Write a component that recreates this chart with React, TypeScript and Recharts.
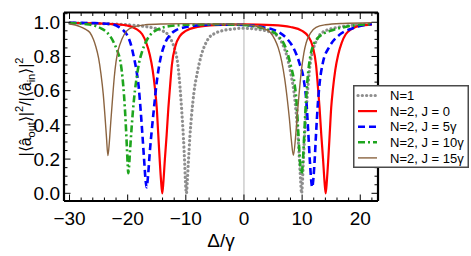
import { LineChart, Line, XAxis, YAxis, ReferenceLine, Legend } from "recharts";

type Pt = [number, number];

// |<a_out>|^2/|<a_in>|^2 against Δ/γ
const n1: Pt[] = [
  [-30, 0.995], [-25, 0.992], [-20, 0.985], [-17, 0.975], [-15, 0.962], [-14, 0.95], [-13, 0.925],
  [-12.3, 0.88], [-11.8, 0.83], [-11.4, 0.76], [-11.0, 0.62], [-10.7, 0.48], [-10.4, 0.32], [-10.2, 0.18],
  [-10.05, 0.06], [-9.9, 0.0], [-9.75, 0.07], [-9.55, 0.19], [-9.3, 0.33], [-9.0, 0.46], [-8.6, 0.59],
  [-8.0, 0.71], [-7.4, 0.8], [-6.8, 0.86], [-6.0, 0.91], [-5.0, 0.935], [-4.0, 0.948], [-2.0, 0.96],
  [0, 0.965], [2.0, 0.96], [4.0, 0.948], [5.0, 0.935], [6.0, 0.91], [6.8, 0.86], [7.4, 0.8], [8.0, 0.71],
  [8.6, 0.59], [9.0, 0.46], [9.3, 0.33], [9.55, 0.19], [9.75, 0.07], [9.9, 0.0], [10.05, 0.06], [10.2, 0.18],
  [10.4, 0.32], [10.7, 0.48], [11.0, 0.62], [11.4, 0.76], [11.8, 0.83], [12.3, 0.88], [13, 0.925],
  [14, 0.95], [15, 0.962], [17, 0.975], [20, 0.985], [22, 0.989],
];

const j0: Pt[] = [
  [-30, 0.997], [-25, 0.993], [-22, 0.988], [-20, 0.98], [-18.5, 0.96], [-17.5, 0.93], [-16.8, 0.88],
  [-16.2, 0.81], [-15.7, 0.72], [-15.3, 0.61], [-15.0, 0.5], [-14.75, 0.35], [-14.5, 0.2], [-14.25, 0.07],
  [-14.05, 0.0], [-13.85, 0.07], [-13.6, 0.2], [-13.3, 0.34], [-13.0, 0.5], [-12.7, 0.63], [-12.4, 0.75],
  [-11.8, 0.86], [-11.0, 0.92], [-10.0, 0.95], [-8.0, 0.972], [-5, 0.983], [0, 0.987], [5, 0.983],
  [8, 0.972], [10, 0.95], [11, 0.92], [11.8, 0.86], [12.4, 0.75], [12.7, 0.63], [13.0, 0.5], [13.3, 0.34],
  [13.6, 0.2], [13.85, 0.07], [14.05, 0.0], [14.25, 0.07], [14.5, 0.2], [14.75, 0.35], [15.0, 0.5],
  [15.3, 0.61], [15.7, 0.72], [16.2, 0.81], [16.8, 0.88], [17.5, 0.93], [18.5, 0.96], [20, 0.98], [22, 0.986],
];

const j5: Pt[] = [
  [-30, 0.997], [-26, 0.995], [-23, 0.99], [-21.5, 0.972], [-20.75, 0.952], [-20, 0.92], [-19.4, 0.865],
  [-18.9, 0.79], [-18.5, 0.72], [-18.1, 0.62], [-17.8, 0.5], [-17.5, 0.36], [-17.2, 0.21], [-16.95, 0.09],
  [-16.75, 0.035], [-16.5, 0.1], [-16.2, 0.24], [-15.85, 0.37], [-15.5, 0.49], [-15.0, 0.65], [-14.4, 0.78],
  [-13.6, 0.875], [-12.6, 0.93], [-11.6, 0.955], [-10, 0.972], [-8, 0.982], [-5, 0.986], [-2, 0.986],
  [0, 0.984], [2, 0.978], [4, 0.966], [5, 0.957], [6.1, 0.94], [7.5, 0.9], [8.4, 0.857], [9.55, 0.76],
  [10.3, 0.66], [10.75, 0.53], [11.05, 0.36], [11.35, 0.18], [11.55, 0.08], [11.73, 0.035], [11.95, 0.09],
  [12.15, 0.19], [12.4, 0.35], [12.7, 0.52], [13.0, 0.64], [13.55, 0.76], [14.7, 0.857], [16.4, 0.926],
  [18.7, 0.965], [22, 0.99],
];

const j10: Pt[] = [
  [-30, 0.996], [-27.5, 0.99], [-25.5, 0.978], [-24.5, 0.963], [-23.7, 0.945], [-23, 0.918], [-22.3, 0.875],
  [-21.7, 0.825], [-21.3, 0.78], [-20.9, 0.68], [-20.6, 0.56], [-20.35, 0.42], [-20.15, 0.28], [-20.0, 0.17],
  [-19.9, 0.117], [-19.8, 0.14], [-19.65, 0.22], [-19.35, 0.37], [-19.05, 0.5], [-18.75, 0.6], [-18.4, 0.69],
  [-18.0, 0.77], [-17.6, 0.82], [-16.75, 0.893], [-16, 0.93], [-15, 0.955], [-12.7, 0.978], [-10, 0.985],
  [-5, 0.988], [0, 0.984], [2, 0.975], [4, 0.958], [5, 0.943], [6.1, 0.912], [7.3, 0.84], [8.1, 0.74],
  [8.7, 0.64], [9.05, 0.53], [9.3, 0.38], [9.55, 0.23], [9.75, 0.14], [9.9, 0.115], [10.0, 0.13],
  [10.15, 0.2], [10.35, 0.33], [10.55, 0.47], [10.8, 0.61], [11.05, 0.71], [11.35, 0.79], [11.8, 0.855],
  [12.4, 0.895], [13.5, 0.93], [14.7, 0.948], [17.6, 0.974], [20, 0.985], [22, 0.99],
];

const j15: Pt[] = [
  [-30, 0.99], [-29, 0.984], [-28.2, 0.975], [-27.3, 0.96], [-26.5, 0.94], [-25.9, 0.9], [-25.5, 0.86],
  [-25.0, 0.79], [-24.6, 0.7], [-24.2, 0.58], [-23.9, 0.45], [-23.65, 0.33], [-23.4, 0.22], [-23.15, 0.3],
  [-22.9, 0.42], [-22.6, 0.555], [-22.3, 0.68], [-22.0, 0.77], [-21.6, 0.84], [-21.0, 0.9], [-20.2, 0.948],
  [-19.0, 0.972], [-17, 0.985], [-14, 0.99], [-10, 0.992], [-5, 0.99], [0, 0.986], [2, 0.978], [3.5, 0.962],
  [4.5, 0.942], [5.3, 0.9], [5.9, 0.85], [6.5, 0.77], [7.0, 0.67], [7.45, 0.55], [7.8, 0.44], [8.15, 0.31],
  [8.5, 0.222], [8.85, 0.32], [9.15, 0.45], [9.45, 0.57], [9.85, 0.71], [10.3, 0.82], [10.7, 0.88],
  [11.5, 0.94], [12.4, 0.97], [14, 0.985], [17, 0.993], [22, 0.997],
];

const legendNames = ["N=1", "N=2, J = 0", "N=2, J = 5γ", "N=2, J = 10γ", "N=2, J = 15γ"];

const xTickLabels = [-30, -20, -10, 0, 10, 20];
const yTickLabels = [0, 0.2, 0.4, 0.6, 0.8, 1.0];
const xDomain: [number, number] = [-30.95, 23.05];
const yDomain: [number, number] = [-0.045, 1.057];

const xTicks: number[] = [];
for (let v = -30; v <= 22; v += 2) xTicks.push(v);
const yTicks: number[] = [];
for (let i = 0; i <= 21; i++) yTicks.push(Math.round(i * 5) / 100);

const font = "'Liberation Sans', Arial, sans-serif";

const series = [
  { name: legendNames[0], pts: n1, color: "#8e8e8e", width: 3.2, dash: "0.1 4.2", cap: "round" as const },
  { name: legendNames[1], pts: j0, color: "#ff0000", width: 2.2, dash: undefined, cap: "butt" as const },
  { name: legendNames[2], pts: j5, color: "#0000ff", width: 2.6, dash: "7 4", cap: "butt" as const },
  { name: legendNames[3], pts: j10, color: "#1ea51e", width: 2.6, dash: "7 3 2 3", cap: "butt" as const },
  { name: legendNames[4], pts: j15, color: "#8b6440", width: 1.4, dash: undefined, cap: "butt" as const },
];

const isMajorY = (v: number) => yTickLabels.some((t) => Math.abs(t - v) < 1e-6);
const fmtX = (v: number) => (v < 0 ? "\u2212" + Math.abs(v) : String(v));

function BottomTick({ x, y, payload }: any) {
  const major = xTickLabels.includes(payload.value);
  return (
    <g>
      <line x1={x} x2={x} y1={y} y2={y - (major ? 6.5 : 3.5)} stroke="#000" strokeWidth={1} />
      {major && (
        <text x={x} y={y + 23.5} textAnchor="middle" fontFamily={font} fontSize={19} fill="#000">
          {fmtX(payload.value)}
        </text>
      )}
    </g>
  );
}

function TopTick({ x, y, payload }: any) {
  const major = xTickLabels.includes(payload.value);
  return <line x1={x} x2={x} y1={y} y2={y + (major ? 6.5 : 3.5)} stroke="#000" strokeWidth={1} />;
}

function LeftTick({ x, y, payload }: any) {
  const major = isMajorY(payload.value);
  return (
    <g>
      <line x1={x} x2={x + (major ? 6.5 : 3.5)} y1={y} y2={y} stroke="#000" strokeWidth={1} />
      {major && (
        <text x={x - 4} y={y + 6.8} textAnchor="end" fontFamily={font} fontSize={19} fill="#000">
          {payload.value.toFixed(1)}
        </text>
      )}
    </g>
  );
}

function RightTick({ x, y, payload }: any) {
  const major = isMajorY(payload.value);
  return <line x1={x} x2={x - (major ? 6.5 : 3.5)} y1={y} y2={y} stroke="#000" strokeWidth={1} />;
}

function YTitle() {
  return (
    <text transform="translate(31,107) rotate(-90)" textAnchor="middle" fontFamily={font} fontSize={16} fill="#000">
      <tspan>|⟨â</tspan>
      <tspan dy={3.5} fontSize={11}>out</tspan>
      <tspan dy={-3.5}>⟩|</tspan>
      <tspan dy={-8} fontSize={11}>2</tspan>
      <tspan dy={8}>/|⟨â</tspan>
      <tspan dy={3.5} fontSize={11}>in</tspan>
      <tspan dy={-3.5}>⟩|</tspan>
      <tspan dy={-8} fontSize={11}>2</tspan>
    </text>
  );
}

function XTitle() {
  return (
    <text x={221} y={247} textAnchor="middle" fontFamily={font} fontSize={19} fill="#000">
      Δ/γ
    </text>
  );
}

function LegendBox() {
  return (
    <svg width={116} height={83} style={{ display: "block" }}>
      <rect x={0.75} y={0.75} width={114.5} height={81.5} fill="#fff" stroke="#4a4a4a" strokeWidth={1.5} />
      {series.map((s, i) => {
        const cy = 10.5 + i * 15.6;
        return (
          <g key={s.name}>
            <line x1={5} x2={24} y1={cy} y2={cy} stroke={s.color} strokeWidth={s.width}
              strokeDasharray={s.dash} strokeLinecap={s.cap} />
            <text x={37} y={cy + 4.6} fontFamily={font} fontSize={13} fill="#000">{s.name}</text>
          </g>
        );
      })}
    </svg>
  );
}

export default function App() {
  return (
    <div style={{ position: "absolute", left: 0, top: 0, background: "#fff" }}>
      <LineChart width={471} height={256} margin={{ top: 11.5, right: 92, bottom: 54, left: 63 }}>
        <XAxis xAxisId="b" orientation="bottom" type="number" dataKey="x" domain={xDomain} allowDataOverflow
          ticks={xTicks} interval={0} height={1} tickSize={0} tickMargin={0} tickLine={false}
          axisLine={{ stroke: "#000", strokeWidth: 2.2 }} tick={BottomTick}
          label={{ content: () => <XTitle /> }} />
        <XAxis xAxisId="t" orientation="top" type="number" dataKey="x" domain={xDomain} allowDataOverflow
          ticks={xTicks} interval={0} height={1} tickSize={0} tickMargin={0} tickLine={false}
          axisLine={{ stroke: "#000", strokeWidth: 2.2 }} tick={TopTick} />
        <YAxis yAxisId="l" orientation="left" type="number" domain={yDomain} allowDataOverflow
          ticks={yTicks} interval={0} width={1} tickSize={0} tickMargin={0} tickLine={false}
          axisLine={{ stroke: "#000", strokeWidth: 2.2 }} tick={LeftTick}
          label={{ content: () => <YTitle /> }} />
        <YAxis yAxisId="r" orientation="right" type="number" domain={yDomain} allowDataOverflow
          ticks={yTicks} interval={0} width={1} tickSize={0} tickMargin={0} tickLine={false}
          axisLine={{ stroke: "#000", strokeWidth: 2.2 }} tick={RightTick} />
        <ReferenceLine xAxisId="b" yAxisId="l" x={0} stroke="#b5b5b5" strokeWidth={1} />
        {series.map((s) => (
          <Line key={s.name} xAxisId="b" yAxisId="l" name={s.name}
            data={s.pts.map(([x, y]) => ({ x, y }))} dataKey="y" type="monotone"
            stroke={s.color} strokeWidth={s.width} strokeDasharray={s.dash} strokeLinecap={s.cap}
            dot={false} activeDot={false} isAnimationActive={false} />
        ))}
        <Legend layout="horizontal" verticalAlign="middle" align="center" content={() => <LegendBox />}
          wrapperStyle={{ left: 353, top: 85, width: 116, height: 83 }} />
      </LineChart>
    </div>
  );
}
